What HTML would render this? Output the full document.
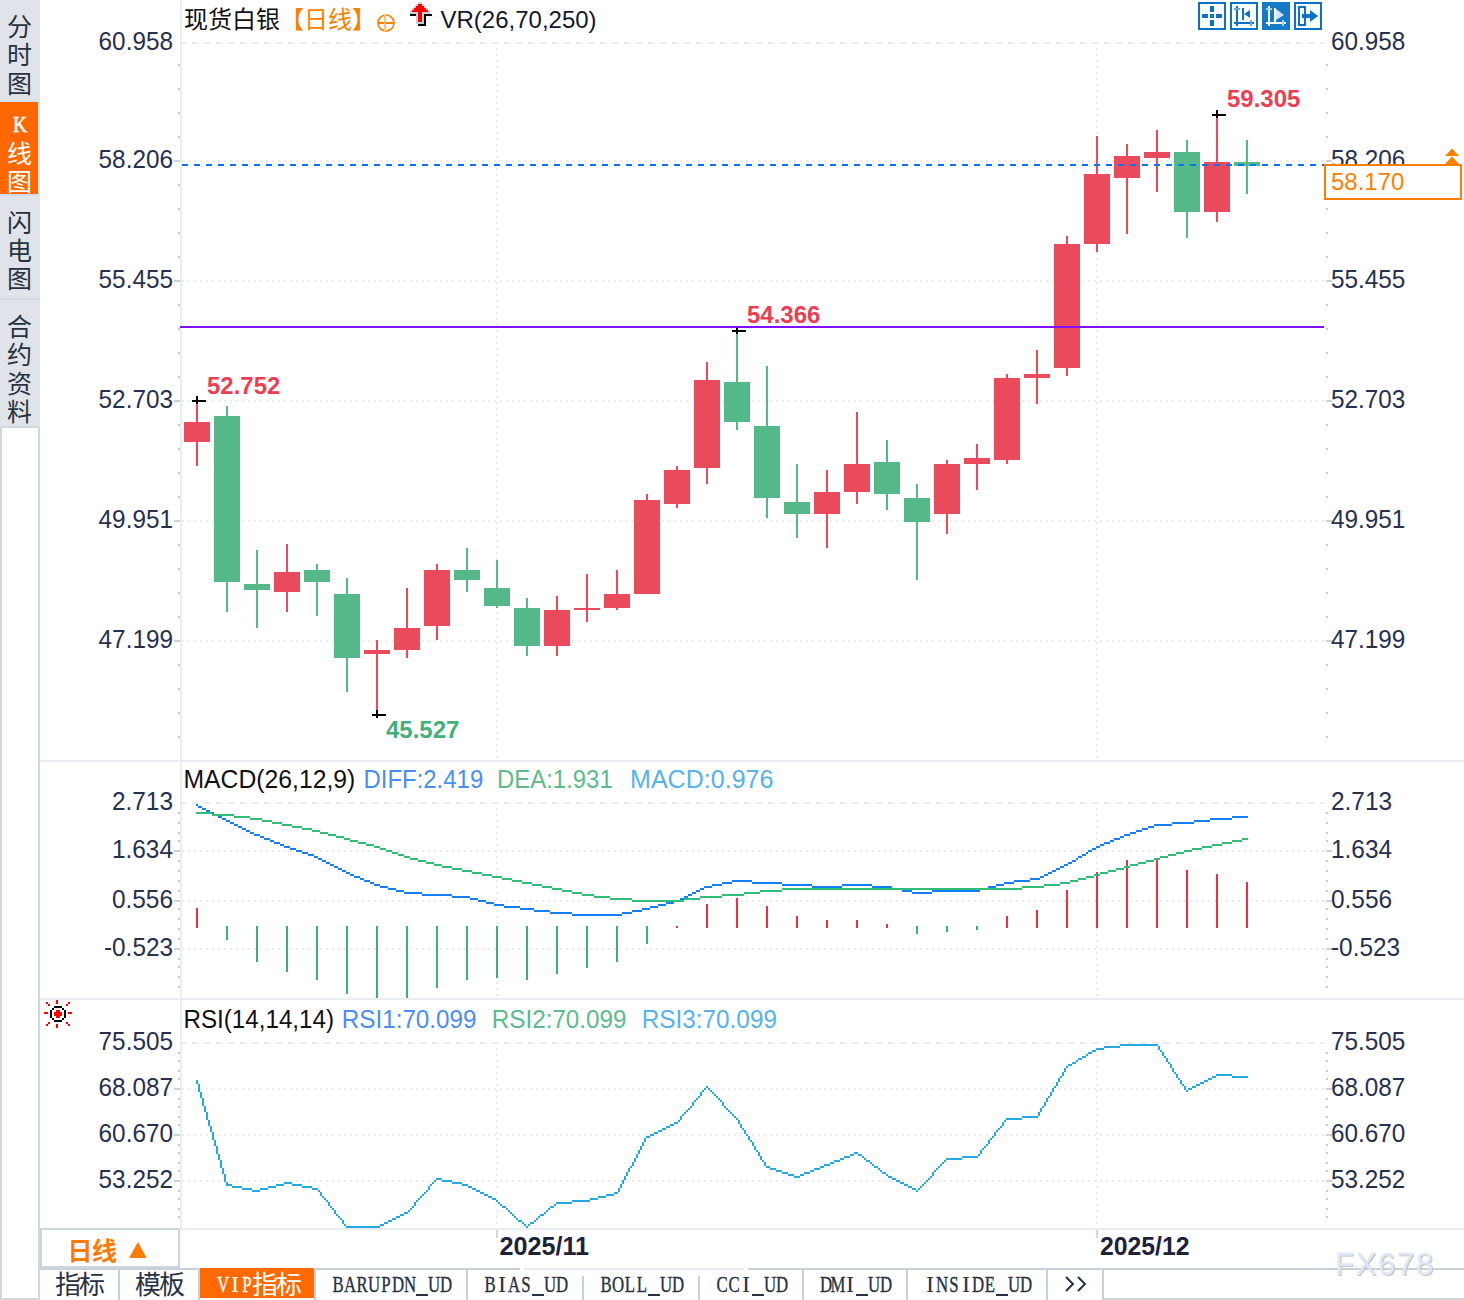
<!DOCTYPE html>
<html><head><meta charset="utf-8"><title>chart</title>
<style>html,body{margin:0;padding:0;background:#fff;}body{width:1464px;height:1300px;overflow:hidden;font-family:"Liberation Sans",sans-serif;}svg{display:block}</style>
</head><body>
<svg width="1464" height="1300" viewBox="0 0 1464 1300"><rect x="0" y="0" width="1464" height="1300" fill="#fff"/>
<rect x="0" y="0" width="40" height="426" fill="#e1e3ea"/>
<rect x="0" y="102" width="38" height="92" fill="#ff6800"/>
<rect x="38" y="102" width="2" height="92" fill="#dfe6ee"/>
<rect x="0" y="194" width="38" height="2" fill="#d2dbe3"/>
<rect x="0" y="298" width="40" height="2" fill="#d2dbe3"/>
<rect x="0" y="100" width="38" height="2" fill="#d8e2ec"/>
<rect x="0" y="426" width="40" height="874" fill="#cfd8e0"/>
<rect x="2" y="428" width="36" height="870" fill="#fff"/>
<rect x="0" y="426" width="40" height="2" fill="#cfd9e1"/>
<text x="7" y="36.07" font-size="25" fill="#26323f" font-family="'Liberation Sans', 'Noto Sans CJK SC', sans-serif">分</text>
<text x="7" y="64.32" font-size="25" fill="#26323f" font-family="'Liberation Sans', 'Noto Sans CJK SC', sans-serif">时</text>
<text x="7" y="92.57" font-size="25" fill="#26323f" font-family="'Liberation Sans', 'Noto Sans CJK SC', sans-serif">图</text>
<text x="7" y="162.57" font-size="25" fill="#fff" font-family="'Liberation Sans', 'Noto Sans CJK SC', sans-serif">线</text>
<text x="7" y="190.57" font-size="25" fill="#fff" font-family="'Liberation Sans', 'Noto Sans CJK SC', sans-serif">图</text>
<text x="7" y="232.07" font-size="25" fill="#26323f" font-family="'Liberation Sans', 'Noto Sans CJK SC', sans-serif">闪</text>
<text x="7" y="260.07" font-size="25" fill="#26323f" font-family="'Liberation Sans', 'Noto Sans CJK SC', sans-serif">电</text>
<text x="7" y="288.07" font-size="25" fill="#26323f" font-family="'Liberation Sans', 'Noto Sans CJK SC', sans-serif">图</text>
<text x="7" y="335.82" font-size="25" fill="#26323f" font-family="'Liberation Sans', 'Noto Sans CJK SC', sans-serif">合</text>
<text x="7" y="364.22" font-size="25" fill="#26323f" font-family="'Liberation Sans', 'Noto Sans CJK SC', sans-serif">约</text>
<text x="7" y="392.62" font-size="25" fill="#26323f" font-family="'Liberation Sans', 'Noto Sans CJK SC', sans-serif">资</text>
<text x="7" y="421.02" font-size="25" fill="#26323f" font-family="'Liberation Sans', 'Noto Sans CJK SC', sans-serif">料</text>
<text transform="translate(20 131.5) scale(0.8 1)" font-size="24" fill="#fff" stroke="#fff" stroke-width="0.7" text-anchor="middle" font-family="'Liberation Serif', serif">K</text>
<rect x="180" y="0" width="2" height="1230" fill="#eaeef3"/>
<rect x="40" y="760" width="1424" height="2" fill="#eaeef3"/>
<rect x="40" y="998" width="1424" height="2" fill="#eaeef3"/>
<rect x="40" y="1228" width="1424" height="2" fill="#eaeef3"/>
<line x1="180" y1="43" x2="1324" y2="43" stroke="#e9edf2" stroke-width="2" stroke-dasharray="6 6" shape-rendering="crispEdges"/>
<line x1="182" y1="161" x2="1324" y2="161" stroke="#e9edf2" stroke-width="2" stroke-dasharray="2 4" shape-rendering="crispEdges"/>
<line x1="182" y1="281" x2="1324" y2="281" stroke="#e9edf2" stroke-width="2" stroke-dasharray="2 4" shape-rendering="crispEdges"/>
<line x1="182" y1="401" x2="1324" y2="401" stroke="#e9edf2" stroke-width="2" stroke-dasharray="2 4" shape-rendering="crispEdges"/>
<line x1="182" y1="521" x2="1324" y2="521" stroke="#e9edf2" stroke-width="2" stroke-dasharray="2 4" shape-rendering="crispEdges"/>
<line x1="182" y1="641" x2="1324" y2="641" stroke="#e9edf2" stroke-width="2" stroke-dasharray="2 4" shape-rendering="crispEdges"/>
<line x1="180" y1="803" x2="1324" y2="803" stroke="#e9edf2" stroke-width="2" stroke-dasharray="6 6" shape-rendering="crispEdges"/>
<line x1="182" y1="851" x2="1324" y2="851" stroke="#e9edf2" stroke-width="2" stroke-dasharray="2 4" shape-rendering="crispEdges"/>
<line x1="182" y1="901" x2="1324" y2="901" stroke="#e9edf2" stroke-width="2" stroke-dasharray="2 4" shape-rendering="crispEdges"/>
<line x1="182" y1="949" x2="1324" y2="949" stroke="#e9edf2" stroke-width="2" stroke-dasharray="2 4" shape-rendering="crispEdges"/>
<line x1="180" y1="1043" x2="1324" y2="1043" stroke="#e9edf2" stroke-width="2" stroke-dasharray="6 6" shape-rendering="crispEdges"/>
<line x1="182" y1="1089" x2="1324" y2="1089" stroke="#e9edf2" stroke-width="2" stroke-dasharray="2 4" shape-rendering="crispEdges"/>
<line x1="182" y1="1135" x2="1324" y2="1135" stroke="#e9edf2" stroke-width="2" stroke-dasharray="2 4" shape-rendering="crispEdges"/>
<line x1="182" y1="1181" x2="1324" y2="1181" stroke="#e9edf2" stroke-width="2" stroke-dasharray="2 4" shape-rendering="crispEdges"/>
<line x1="497" y1="48" x2="497" y2="760" stroke="#e9edf2" stroke-width="2" stroke-dasharray="2 4" shape-rendering="crispEdges"/>
<line x1="497" y1="808" x2="497" y2="998" stroke="#e9edf2" stroke-width="2" stroke-dasharray="2 4" shape-rendering="crispEdges"/>
<line x1="497" y1="1048" x2="497" y2="1228" stroke="#e9edf2" stroke-width="2" stroke-dasharray="2 4" shape-rendering="crispEdges"/>
<rect x="496" y="1230" width="2" height="8" fill="#d3d9e0"/>
<line x1="1097" y1="48" x2="1097" y2="760" stroke="#e9edf2" stroke-width="2" stroke-dasharray="2 4" shape-rendering="crispEdges"/>
<line x1="1097" y1="808" x2="1097" y2="998" stroke="#e9edf2" stroke-width="2" stroke-dasharray="2 4" shape-rendering="crispEdges"/>
<line x1="1097" y1="1048" x2="1097" y2="1228" stroke="#e9edf2" stroke-width="2" stroke-dasharray="2 4" shape-rendering="crispEdges"/>
<rect x="1096" y="1230" width="2" height="8" fill="#d3d9e0"/>
<rect x="178" y="64" width="2" height="2" fill="#c3cad3"/>
<rect x="1326" y="64" width="2" height="2" fill="#c3cad3"/>
<rect x="178" y="88" width="2" height="2" fill="#c3cad3"/>
<rect x="1326" y="88" width="2" height="2" fill="#c3cad3"/>
<rect x="178" y="112" width="2" height="2" fill="#c3cad3"/>
<rect x="1326" y="112" width="2" height="2" fill="#c3cad3"/>
<rect x="178" y="136" width="2" height="2" fill="#c3cad3"/>
<rect x="1326" y="136" width="2" height="2" fill="#c3cad3"/>
<rect x="174" y="160" width="6" height="2" fill="#cdd2d8"/>
<rect x="1326" y="160" width="6" height="2" fill="#cdd2d8"/>
<rect x="178" y="184" width="2" height="2" fill="#c3cad3"/>
<rect x="1326" y="184" width="2" height="2" fill="#c3cad3"/>
<rect x="178" y="208" width="2" height="2" fill="#c3cad3"/>
<rect x="1326" y="208" width="2" height="2" fill="#c3cad3"/>
<rect x="178" y="232" width="2" height="2" fill="#c3cad3"/>
<rect x="1326" y="232" width="2" height="2" fill="#c3cad3"/>
<rect x="178" y="256" width="2" height="2" fill="#c3cad3"/>
<rect x="1326" y="256" width="2" height="2" fill="#c3cad3"/>
<rect x="174" y="280" width="6" height="2" fill="#cdd2d8"/>
<rect x="1326" y="280" width="6" height="2" fill="#cdd2d8"/>
<rect x="178" y="304" width="2" height="2" fill="#c3cad3"/>
<rect x="1326" y="304" width="2" height="2" fill="#c3cad3"/>
<rect x="178" y="328" width="2" height="2" fill="#c3cad3"/>
<rect x="1326" y="328" width="2" height="2" fill="#c3cad3"/>
<rect x="178" y="352" width="2" height="2" fill="#c3cad3"/>
<rect x="1326" y="352" width="2" height="2" fill="#c3cad3"/>
<rect x="178" y="376" width="2" height="2" fill="#c3cad3"/>
<rect x="1326" y="376" width="2" height="2" fill="#c3cad3"/>
<rect x="174" y="400" width="6" height="2" fill="#cdd2d8"/>
<rect x="1326" y="400" width="6" height="2" fill="#cdd2d8"/>
<rect x="178" y="424" width="2" height="2" fill="#c3cad3"/>
<rect x="1326" y="424" width="2" height="2" fill="#c3cad3"/>
<rect x="178" y="448" width="2" height="2" fill="#c3cad3"/>
<rect x="1326" y="448" width="2" height="2" fill="#c3cad3"/>
<rect x="178" y="472" width="2" height="2" fill="#c3cad3"/>
<rect x="1326" y="472" width="2" height="2" fill="#c3cad3"/>
<rect x="178" y="496" width="2" height="2" fill="#c3cad3"/>
<rect x="1326" y="496" width="2" height="2" fill="#c3cad3"/>
<rect x="174" y="520" width="6" height="2" fill="#cdd2d8"/>
<rect x="1326" y="520" width="6" height="2" fill="#cdd2d8"/>
<rect x="178" y="544" width="2" height="2" fill="#c3cad3"/>
<rect x="1326" y="544" width="2" height="2" fill="#c3cad3"/>
<rect x="178" y="568" width="2" height="2" fill="#c3cad3"/>
<rect x="1326" y="568" width="2" height="2" fill="#c3cad3"/>
<rect x="178" y="592" width="2" height="2" fill="#c3cad3"/>
<rect x="1326" y="592" width="2" height="2" fill="#c3cad3"/>
<rect x="178" y="616" width="2" height="2" fill="#c3cad3"/>
<rect x="1326" y="616" width="2" height="2" fill="#c3cad3"/>
<rect x="174" y="640" width="6" height="2" fill="#cdd2d8"/>
<rect x="1326" y="640" width="6" height="2" fill="#cdd2d8"/>
<rect x="178" y="664" width="2" height="2" fill="#c3cad3"/>
<rect x="1326" y="664" width="2" height="2" fill="#c3cad3"/>
<rect x="178" y="688" width="2" height="2" fill="#c3cad3"/>
<rect x="1326" y="688" width="2" height="2" fill="#c3cad3"/>
<rect x="178" y="712" width="2" height="2" fill="#c3cad3"/>
<rect x="1326" y="712" width="2" height="2" fill="#c3cad3"/>
<rect x="178" y="736" width="2" height="2" fill="#c3cad3"/>
<rect x="1326" y="736" width="2" height="2" fill="#c3cad3"/>
<rect x="178" y="812" width="2" height="2" fill="#c3cad3"/>
<rect x="1326" y="812" width="2" height="2" fill="#c3cad3"/>
<rect x="178" y="822" width="2" height="2" fill="#c3cad3"/>
<rect x="1326" y="822" width="2" height="2" fill="#c3cad3"/>
<rect x="178" y="832" width="2" height="2" fill="#c3cad3"/>
<rect x="1326" y="832" width="2" height="2" fill="#c3cad3"/>
<rect x="178" y="840" width="2" height="2" fill="#c3cad3"/>
<rect x="1326" y="840" width="2" height="2" fill="#c3cad3"/>
<rect x="174" y="850" width="6" height="2" fill="#cdd2d8"/>
<rect x="1326" y="850" width="6" height="2" fill="#cdd2d8"/>
<rect x="178" y="860" width="2" height="2" fill="#c3cad3"/>
<rect x="1326" y="860" width="2" height="2" fill="#c3cad3"/>
<rect x="178" y="870" width="2" height="2" fill="#c3cad3"/>
<rect x="1326" y="870" width="2" height="2" fill="#c3cad3"/>
<rect x="178" y="880" width="2" height="2" fill="#c3cad3"/>
<rect x="1326" y="880" width="2" height="2" fill="#c3cad3"/>
<rect x="178" y="890" width="2" height="2" fill="#c3cad3"/>
<rect x="1326" y="890" width="2" height="2" fill="#c3cad3"/>
<rect x="174" y="900" width="6" height="2" fill="#cdd2d8"/>
<rect x="1326" y="900" width="6" height="2" fill="#cdd2d8"/>
<rect x="178" y="908" width="2" height="2" fill="#c3cad3"/>
<rect x="1326" y="908" width="2" height="2" fill="#c3cad3"/>
<rect x="178" y="918" width="2" height="2" fill="#c3cad3"/>
<rect x="1326" y="918" width="2" height="2" fill="#c3cad3"/>
<rect x="178" y="928" width="2" height="2" fill="#c3cad3"/>
<rect x="1326" y="928" width="2" height="2" fill="#c3cad3"/>
<rect x="178" y="938" width="2" height="2" fill="#c3cad3"/>
<rect x="1326" y="938" width="2" height="2" fill="#c3cad3"/>
<rect x="174" y="948" width="6" height="2" fill="#cdd2d8"/>
<rect x="1326" y="948" width="6" height="2" fill="#cdd2d8"/>
<rect x="178" y="958" width="2" height="2" fill="#c3cad3"/>
<rect x="1326" y="958" width="2" height="2" fill="#c3cad3"/>
<rect x="178" y="966" width="2" height="2" fill="#c3cad3"/>
<rect x="1326" y="966" width="2" height="2" fill="#c3cad3"/>
<rect x="178" y="976" width="2" height="2" fill="#c3cad3"/>
<rect x="1326" y="976" width="2" height="2" fill="#c3cad3"/>
<rect x="178" y="986" width="2" height="2" fill="#c3cad3"/>
<rect x="1326" y="986" width="2" height="2" fill="#c3cad3"/>
<rect x="178" y="1052" width="2" height="2" fill="#c3cad3"/>
<rect x="1326" y="1052" width="2" height="2" fill="#c3cad3"/>
<rect x="178" y="1060" width="2" height="2" fill="#c3cad3"/>
<rect x="1326" y="1060" width="2" height="2" fill="#c3cad3"/>
<rect x="178" y="1070" width="2" height="2" fill="#c3cad3"/>
<rect x="1326" y="1070" width="2" height="2" fill="#c3cad3"/>
<rect x="178" y="1078" width="2" height="2" fill="#c3cad3"/>
<rect x="1326" y="1078" width="2" height="2" fill="#c3cad3"/>
<rect x="174" y="1088" width="6" height="2" fill="#cdd2d8"/>
<rect x="1326" y="1088" width="6" height="2" fill="#cdd2d8"/>
<rect x="178" y="1098" width="2" height="2" fill="#c3cad3"/>
<rect x="1326" y="1098" width="2" height="2" fill="#c3cad3"/>
<rect x="178" y="1106" width="2" height="2" fill="#c3cad3"/>
<rect x="1326" y="1106" width="2" height="2" fill="#c3cad3"/>
<rect x="178" y="1116" width="2" height="2" fill="#c3cad3"/>
<rect x="1326" y="1116" width="2" height="2" fill="#c3cad3"/>
<rect x="178" y="1124" width="2" height="2" fill="#c3cad3"/>
<rect x="1326" y="1124" width="2" height="2" fill="#c3cad3"/>
<rect x="174" y="1134" width="6" height="2" fill="#cdd2d8"/>
<rect x="1326" y="1134" width="6" height="2" fill="#cdd2d8"/>
<rect x="178" y="1144" width="2" height="2" fill="#c3cad3"/>
<rect x="1326" y="1144" width="2" height="2" fill="#c3cad3"/>
<rect x="178" y="1152" width="2" height="2" fill="#c3cad3"/>
<rect x="1326" y="1152" width="2" height="2" fill="#c3cad3"/>
<rect x="178" y="1162" width="2" height="2" fill="#c3cad3"/>
<rect x="1326" y="1162" width="2" height="2" fill="#c3cad3"/>
<rect x="178" y="1170" width="2" height="2" fill="#c3cad3"/>
<rect x="1326" y="1170" width="2" height="2" fill="#c3cad3"/>
<rect x="174" y="1180" width="6" height="2" fill="#cdd2d8"/>
<rect x="1326" y="1180" width="6" height="2" fill="#cdd2d8"/>
<rect x="178" y="1190" width="2" height="2" fill="#c3cad3"/>
<rect x="1326" y="1190" width="2" height="2" fill="#c3cad3"/>
<rect x="178" y="1198" width="2" height="2" fill="#c3cad3"/>
<rect x="1326" y="1198" width="2" height="2" fill="#c3cad3"/>
<rect x="178" y="1208" width="2" height="2" fill="#c3cad3"/>
<rect x="1326" y="1208" width="2" height="2" fill="#c3cad3"/>
<rect x="178" y="1216" width="2" height="2" fill="#c3cad3"/>
<rect x="1326" y="1216" width="2" height="2" fill="#c3cad3"/>
<text x="98.58" y="50.0" font-size="25" fill="#27304c" textLength="74.4" lengthAdjust="spacingAndGlyphs" font-family="'Liberation Sans', sans-serif">60.958</text>
<text x="1331.00" y="50.0" font-size="25" fill="#27304c" textLength="74.4" lengthAdjust="spacingAndGlyphs" font-family="'Liberation Sans', sans-serif">60.958</text>
<text x="98.58" y="167.5" font-size="25" fill="#27304c" textLength="74.4" lengthAdjust="spacingAndGlyphs" font-family="'Liberation Sans', sans-serif">58.206</text>
<text x="1331.00" y="167.5" font-size="25" fill="#27304c" textLength="74.4" lengthAdjust="spacingAndGlyphs" font-family="'Liberation Sans', sans-serif">58.206</text>
<text x="98.58" y="288.0" font-size="25" fill="#27304c" textLength="74.4" lengthAdjust="spacingAndGlyphs" font-family="'Liberation Sans', sans-serif">55.455</text>
<text x="1331.00" y="288.0" font-size="25" fill="#27304c" textLength="74.4" lengthAdjust="spacingAndGlyphs" font-family="'Liberation Sans', sans-serif">55.455</text>
<text x="98.58" y="408.0" font-size="25" fill="#27304c" textLength="74.4" lengthAdjust="spacingAndGlyphs" font-family="'Liberation Sans', sans-serif">52.703</text>
<text x="1331.00" y="408.0" font-size="25" fill="#27304c" textLength="74.4" lengthAdjust="spacingAndGlyphs" font-family="'Liberation Sans', sans-serif">52.703</text>
<text x="98.58" y="528.0" font-size="25" fill="#27304c" textLength="74.4" lengthAdjust="spacingAndGlyphs" font-family="'Liberation Sans', sans-serif">49.951</text>
<text x="1331.00" y="528.0" font-size="25" fill="#27304c" textLength="74.4" lengthAdjust="spacingAndGlyphs" font-family="'Liberation Sans', sans-serif">49.951</text>
<text x="98.58" y="648.0" font-size="25" fill="#27304c" textLength="74.4" lengthAdjust="spacingAndGlyphs" font-family="'Liberation Sans', sans-serif">47.199</text>
<text x="1331.00" y="648.0" font-size="25" fill="#27304c" textLength="74.4" lengthAdjust="spacingAndGlyphs" font-family="'Liberation Sans', sans-serif">47.199</text>
<text x="111.93" y="809.5" font-size="25" fill="#27304c" textLength="61.1" lengthAdjust="spacingAndGlyphs" font-family="'Liberation Sans', sans-serif">2.713</text>
<text x="1331.00" y="809.5" font-size="25" fill="#27304c" textLength="61.1" lengthAdjust="spacingAndGlyphs" font-family="'Liberation Sans', sans-serif">2.713</text>
<text x="111.93" y="857.5" font-size="25" fill="#27304c" textLength="61.1" lengthAdjust="spacingAndGlyphs" font-family="'Liberation Sans', sans-serif">1.634</text>
<text x="1331.00" y="857.5" font-size="25" fill="#27304c" textLength="61.1" lengthAdjust="spacingAndGlyphs" font-family="'Liberation Sans', sans-serif">1.634</text>
<text x="111.93" y="907.5" font-size="25" fill="#27304c" textLength="61.1" lengthAdjust="spacingAndGlyphs" font-family="'Liberation Sans', sans-serif">0.556</text>
<text x="1331.00" y="907.5" font-size="25" fill="#27304c" textLength="61.1" lengthAdjust="spacingAndGlyphs" font-family="'Liberation Sans', sans-serif">0.556</text>
<text x="103.94" y="955.5" font-size="25" fill="#27304c" textLength="69.1" lengthAdjust="spacingAndGlyphs" font-family="'Liberation Sans', sans-serif">-0.523</text>
<text x="1331.00" y="955.5" font-size="25" fill="#27304c" textLength="69.1" lengthAdjust="spacingAndGlyphs" font-family="'Liberation Sans', sans-serif">-0.523</text>
<text x="98.58" y="1050" font-size="25" fill="#27304c" textLength="74.4" lengthAdjust="spacingAndGlyphs" font-family="'Liberation Sans', sans-serif">75.505</text>
<text x="1331.00" y="1050" font-size="25" fill="#27304c" textLength="74.4" lengthAdjust="spacingAndGlyphs" font-family="'Liberation Sans', sans-serif">75.505</text>
<text x="98.58" y="1096" font-size="25" fill="#27304c" textLength="74.4" lengthAdjust="spacingAndGlyphs" font-family="'Liberation Sans', sans-serif">68.087</text>
<text x="1331.00" y="1096" font-size="25" fill="#27304c" textLength="74.4" lengthAdjust="spacingAndGlyphs" font-family="'Liberation Sans', sans-serif">68.087</text>
<text x="98.58" y="1142" font-size="25" fill="#27304c" textLength="74.4" lengthAdjust="spacingAndGlyphs" font-family="'Liberation Sans', sans-serif">60.670</text>
<text x="1331.00" y="1142" font-size="25" fill="#27304c" textLength="74.4" lengthAdjust="spacingAndGlyphs" font-family="'Liberation Sans', sans-serif">60.670</text>
<text x="98.58" y="1188" font-size="25" fill="#27304c" textLength="74.4" lengthAdjust="spacingAndGlyphs" font-family="'Liberation Sans', sans-serif">53.252</text>
<text x="1331.00" y="1188" font-size="25" fill="#27304c" textLength="74.4" lengthAdjust="spacingAndGlyphs" font-family="'Liberation Sans', sans-serif">53.252</text>
<rect x="196" y="400" width="2" height="66" fill="#e94b5c"/>
<rect x="184" y="422" width="26" height="20" fill="#e94b5c"/>
<rect x="226" y="406" width="2" height="206" fill="#54b888"/>
<rect x="214" y="416" width="26" height="166" fill="#54b888"/>
<rect x="256" y="550" width="2" height="78" fill="#54b888"/>
<rect x="244" y="584" width="26" height="6" fill="#54b888"/>
<rect x="286" y="544" width="2" height="68" fill="#e94b5c"/>
<rect x="274" y="572" width="26" height="20" fill="#e94b5c"/>
<rect x="316" y="564" width="2" height="52" fill="#54b888"/>
<rect x="304" y="570" width="26" height="12" fill="#54b888"/>
<rect x="346" y="578" width="2" height="114" fill="#54b888"/>
<rect x="334" y="594" width="26" height="64" fill="#54b888"/>
<rect x="376" y="640" width="2" height="72" fill="#e94b5c"/>
<rect x="364" y="650" width="26" height="4" fill="#e94b5c"/>
<rect x="406" y="588" width="2" height="70" fill="#e94b5c"/>
<rect x="394" y="628" width="26" height="22" fill="#e94b5c"/>
<rect x="436" y="564" width="2" height="76" fill="#e94b5c"/>
<rect x="424" y="570" width="26" height="56" fill="#e94b5c"/>
<rect x="466" y="548" width="2" height="44" fill="#54b888"/>
<rect x="454" y="570" width="26" height="10" fill="#54b888"/>
<rect x="496" y="560" width="2" height="48" fill="#54b888"/>
<rect x="484" y="588" width="26" height="18" fill="#54b888"/>
<rect x="526" y="598" width="2" height="58" fill="#54b888"/>
<rect x="514" y="608" width="26" height="38" fill="#54b888"/>
<rect x="556" y="596" width="2" height="60" fill="#e94b5c"/>
<rect x="544" y="610" width="26" height="36" fill="#e94b5c"/>
<rect x="586" y="574" width="2" height="48" fill="#e94b5c"/>
<rect x="574" y="608" width="26" height="2" fill="#e94b5c"/>
<rect x="616" y="570" width="2" height="40" fill="#e94b5c"/>
<rect x="604" y="594" width="26" height="14" fill="#e94b5c"/>
<rect x="646" y="494" width="2" height="100" fill="#e94b5c"/>
<rect x="634" y="500" width="26" height="94" fill="#e94b5c"/>
<rect x="676" y="466" width="2" height="42" fill="#e94b5c"/>
<rect x="664" y="470" width="26" height="34" fill="#e94b5c"/>
<rect x="706" y="362" width="2" height="122" fill="#e94b5c"/>
<rect x="694" y="380" width="26" height="88" fill="#e94b5c"/>
<rect x="736" y="334" width="2" height="96" fill="#54b888"/>
<rect x="724" y="382" width="26" height="40" fill="#54b888"/>
<rect x="766" y="366" width="2" height="152" fill="#54b888"/>
<rect x="754" y="426" width="26" height="72" fill="#54b888"/>
<rect x="796" y="464" width="2" height="74" fill="#54b888"/>
<rect x="784" y="502" width="26" height="12" fill="#54b888"/>
<rect x="826" y="470" width="2" height="78" fill="#e94b5c"/>
<rect x="814" y="492" width="26" height="22" fill="#e94b5c"/>
<rect x="856" y="412" width="2" height="92" fill="#e94b5c"/>
<rect x="844" y="464" width="26" height="28" fill="#e94b5c"/>
<rect x="886" y="440" width="2" height="70" fill="#54b888"/>
<rect x="874" y="462" width="26" height="32" fill="#54b888"/>
<rect x="916" y="484" width="2" height="96" fill="#54b888"/>
<rect x="904" y="498" width="26" height="24" fill="#54b888"/>
<rect x="946" y="460" width="2" height="74" fill="#e94b5c"/>
<rect x="934" y="464" width="26" height="50" fill="#e94b5c"/>
<rect x="976" y="444" width="2" height="46" fill="#e94b5c"/>
<rect x="964" y="458" width="26" height="6" fill="#e94b5c"/>
<rect x="1006" y="374" width="2" height="90" fill="#e94b5c"/>
<rect x="994" y="378" width="26" height="82" fill="#e94b5c"/>
<rect x="1036" y="350" width="2" height="54" fill="#e94b5c"/>
<rect x="1024" y="374" width="26" height="4" fill="#e94b5c"/>
<rect x="1066" y="236" width="2" height="140" fill="#e94b5c"/>
<rect x="1054" y="244" width="26" height="124" fill="#e94b5c"/>
<rect x="1096" y="136" width="2" height="116" fill="#e94b5c"/>
<rect x="1084" y="174" width="26" height="70" fill="#e94b5c"/>
<rect x="1126" y="144" width="2" height="90" fill="#e94b5c"/>
<rect x="1114" y="156" width="26" height="22" fill="#e94b5c"/>
<rect x="1156" y="130" width="2" height="62" fill="#e94b5c"/>
<rect x="1144" y="152" width="26" height="6" fill="#e94b5c"/>
<rect x="1186" y="140" width="2" height="98" fill="#54b888"/>
<rect x="1174" y="152" width="26" height="60" fill="#54b888"/>
<rect x="1216" y="116" width="2" height="106" fill="#e94b5c"/>
<rect x="1204" y="162" width="26" height="50" fill="#e94b5c"/>
<rect x="1246" y="140" width="2" height="54" fill="#54b888"/>
<rect x="1234" y="162" width="26" height="4" fill="#54b888"/>
<line x1="182" y1="165" x2="1324" y2="165" stroke="#0a74f2" stroke-width="2" stroke-dasharray="6 6" shape-rendering="crispEdges"/>
<rect x="192" y="400" width="14" height="2" fill="#000"/>
<rect x="196" y="396" width="2" height="8" fill="#000"/>
<rect x="372" y="714" width="14" height="2" fill="#000"/>
<rect x="376" y="710" width="2" height="8" fill="#000"/>
<rect x="732" y="330" width="14" height="2" fill="#000"/>
<rect x="736" y="326" width="2" height="8" fill="#000"/>
<rect x="1212" y="114" width="14" height="2" fill="#000"/>
<rect x="1216" y="110" width="2" height="8" fill="#000"/>
<rect x="180" y="326" width="1144" height="2" fill="#7f10f8"/>
<text x="207" y="394" font-size="24" fill="#eb4054" font-weight="bold" text-anchor="start" font-family="'Liberation Sans', sans-serif">52.752</text>
<text x="747" y="323" font-size="24" fill="#eb4054" font-weight="bold" text-anchor="start" font-family="'Liberation Sans', sans-serif">54.366</text>
<text x="1227" y="107" font-size="24" fill="#eb4054" font-weight="bold" text-anchor="start" font-family="'Liberation Sans', sans-serif">59.305</text>
<text x="386" y="738" font-size="24" fill="#42b07c" font-weight="bold" text-anchor="start" font-family="'Liberation Sans', sans-serif">45.527</text>
<rect x="1324" y="164" width="138" height="36" fill="#ff7f00"/>
<rect x="1326" y="166" width="134" height="32" fill="#fff"/>
<text x="1331" y="190" font-size="24" fill="#ff7f00" font-weight="normal" text-anchor="start" font-family="'Liberation Sans', sans-serif">58.170</text>
<path d="M1452 148.5 L1459 156 L1445 156 Z M1452 156.5 L1459 164 L1445 164 Z" fill="#ff7f00"/>
<rect x="196" y="908" width="2" height="20" fill="#e83246"/>
<rect x="226" y="926" width="2" height="14" fill="#3eaf78"/>
<rect x="256" y="926" width="2" height="36" fill="#3eaf78"/>
<rect x="286" y="926" width="2" height="46" fill="#3eaf78"/>
<rect x="316" y="926" width="2" height="54" fill="#3eaf78"/>
<rect x="346" y="926" width="2" height="68" fill="#3eaf78"/>
<rect x="376" y="926" width="2" height="72" fill="#3eaf78"/>
<rect x="406" y="926" width="2" height="72" fill="#3eaf78"/>
<rect x="436" y="926" width="2" height="62" fill="#3eaf78"/>
<rect x="466" y="926" width="2" height="54" fill="#3eaf78"/>
<rect x="496" y="926" width="2" height="52" fill="#3eaf78"/>
<rect x="526" y="926" width="2" height="54" fill="#3eaf78"/>
<rect x="556" y="926" width="2" height="48" fill="#3eaf78"/>
<rect x="586" y="926" width="2" height="42" fill="#3eaf78"/>
<rect x="616" y="926" width="2" height="36" fill="#3eaf78"/>
<rect x="646" y="926" width="2" height="18" fill="#3eaf78"/>
<rect x="676" y="926" width="2" height="2" fill="#e83246"/>
<rect x="706" y="904" width="2" height="24" fill="#e83246"/>
<rect x="736" y="898" width="2" height="30" fill="#e83246"/>
<rect x="766" y="906" width="2" height="22" fill="#e83246"/>
<rect x="796" y="916" width="2" height="12" fill="#e83246"/>
<rect x="826" y="920" width="2" height="8" fill="#e83246"/>
<rect x="856" y="920" width="2" height="8" fill="#e83246"/>
<rect x="886" y="924" width="2" height="4" fill="#e83246"/>
<rect x="916" y="926" width="2" height="8" fill="#3eaf78"/>
<rect x="946" y="926" width="2" height="6" fill="#3eaf78"/>
<rect x="976" y="926" width="2" height="4" fill="#3eaf78"/>
<rect x="1006" y="916" width="2" height="12" fill="#e83246"/>
<rect x="1036" y="910" width="2" height="18" fill="#e83246"/>
<rect x="1066" y="890" width="2" height="38" fill="#e83246"/>
<rect x="1096" y="872" width="2" height="56" fill="#e83246"/>
<rect x="1126" y="860" width="2" height="68" fill="#e83246"/>
<rect x="1156" y="858" width="2" height="70" fill="#e83246"/>
<rect x="1186" y="870" width="2" height="58" fill="#e83246"/>
<rect x="1216" y="874" width="2" height="54" fill="#e83246"/>
<rect x="1246" y="882" width="2" height="46" fill="#e83246"/>
<path d="M196 804h2v2h-2zM198 806h4v2h-4zM202 808h4v2h-4zM206 810h4v2h-4zM210 812h4v2h-4zM214 814h4v2h-4zM218 816h4v2h-4zM1232 816h16v2h-16zM222 818h4v2h-4zM1210 818h22v2h-22zM226 820h4v2h-4zM1194 820h16v2h-16zM230 822h4v2h-4zM1172 822h22v2h-22zM234 824h4v2h-4zM1154 824h18v2h-18zM238 826h4v2h-4zM1148 826h6v2h-6zM242 828h4v2h-4zM1142 828h6v2h-6zM246 830h4v2h-4zM1136 830h6v2h-6zM250 832h4v2h-4zM1130 832h6v2h-6zM254 834h6v2h-6zM1124 834h6v2h-6zM260 836h4v2h-4zM1120 836h4v2h-4zM264 838h6v2h-6zM1114 838h6v2h-6zM270 840h4v2h-4zM1110 840h4v2h-4zM274 842h6v2h-6zM1104 842h6v2h-6zM280 844h4v2h-4zM1100 844h4v2h-4zM284 846h6v2h-6zM1096 846h4v2h-4zM290 848h6v2h-6zM1092 848h4v2h-4zM296 850h6v2h-6zM1088 850h4v2h-4zM302 852h6v2h-6zM1086 852h2v2h-2zM308 854h6v2h-6zM1082 854h4v2h-4zM314 856h4v2h-4zM1078 856h4v2h-4zM318 858h4v2h-4zM1076 858h2v2h-2zM322 860h4v2h-4zM1072 860h4v2h-4zM326 862h4v2h-4zM1068 862h4v2h-4zM330 864h4v2h-4zM1064 864h4v2h-4zM334 866h4v2h-4zM1060 866h4v2h-4zM338 868h4v2h-4zM1056 868h4v2h-4zM342 870h4v2h-4zM1052 870h4v2h-4zM346 872h4v2h-4zM1048 872h4v2h-4zM350 874h4v2h-4zM1044 874h4v2h-4zM354 876h6v2h-6zM1040 876h4v2h-4zM360 878h4v2h-4zM1030 878h10v2h-10zM364 880h6v2h-6zM732 880h20v2h-20zM1014 880h16v2h-16zM370 882h4v2h-4zM722 882h10v2h-10zM752 882h30v2h-30zM1004 882h10v2h-10zM374 884h6v2h-6zM712 884h10v2h-10zM782 884h30v2h-30zM842 884h30v2h-30zM996 884h8v2h-8zM380 886h8v2h-8zM704 886h8v2h-8zM812 886h30v2h-30zM872 886h20v2h-20zM988 886h8v2h-8zM388 888h8v2h-8zM700 888h4v2h-4zM892 888h10v2h-10zM980 888h8v2h-8zM396 890h8v2h-8zM696 890h4v2h-4zM902 890h10v2h-10zM932 890h48v2h-48zM404 892h18v2h-18zM692 892h4v2h-4zM912 892h20v2h-20zM422 894h30v2h-30zM688 894h4v2h-4zM452 896h18v2h-18zM684 896h4v2h-4zM470 898h8v2h-8zM680 898h4v2h-4zM478 900h8v2h-8zM674 900h6v2h-6zM486 902h8v2h-8zM666 902h8v2h-8zM494 904h10v2h-10zM658 904h8v2h-8zM504 906h16v2h-16zM650 906h8v2h-8zM520 908h14v2h-14zM642 908h8v2h-8zM534 910h16v2h-16zM632 910h10v2h-10zM550 912h22v2h-22zM622 912h10v2h-10zM572 914h50v2h-50z" fill="#157efa" shape-rendering="crispEdges"/>
<path d="M196 812h16v2h-16zM212 814h22v2h-22zM234 816h16v2h-16zM250 818h12v2h-12zM262 820h10v2h-10zM272 822h10v2h-10zM282 824h10v2h-10zM292 826h10v2h-10zM302 828h10v2h-10zM312 830h8v2h-8zM320 832h8v2h-8zM328 834h8v2h-8zM336 836h8v2h-8zM344 838h6v2h-6zM1242 838h6v2h-6zM350 840h8v2h-8zM1232 840h10v2h-10zM358 842h8v2h-8zM1222 842h10v2h-10zM366 844h8v2h-8zM1212 844h10v2h-10zM374 846h6v2h-6zM1202 846h10v2h-10zM380 848h6v2h-6zM1192 848h10v2h-10zM386 850h6v2h-6zM1184 850h8v2h-8zM392 852h6v2h-6zM1176 852h8v2h-8zM398 854h6v2h-6zM1168 854h8v2h-8zM404 856h6v2h-6zM1160 856h8v2h-8zM410 858h8v2h-8zM1154 858h6v2h-6zM418 860h8v2h-8zM1146 860h8v2h-8zM426 862h8v2h-8zM1138 862h8v2h-8zM434 864h8v2h-8zM1130 864h8v2h-8zM442 866h10v2h-10zM1124 866h6v2h-6zM452 868h10v2h-10zM1116 868h8v2h-8zM462 870h10v2h-10zM1108 870h8v2h-8zM472 872h10v2h-10zM1100 872h8v2h-8zM482 874h10v2h-10zM1094 874h6v2h-6zM492 876h10v2h-10zM1086 876h8v2h-8zM502 878h10v2h-10zM1078 878h8v2h-8zM512 880h10v2h-10zM1070 880h8v2h-8zM522 882h10v2h-10zM1060 882h10v2h-10zM532 884h10v2h-10zM1044 884h16v2h-16zM542 886h10v2h-10zM1022 886h22v2h-22zM552 888h10v2h-10zM782 888h240v2h-240zM562 890h10v2h-10zM760 890h22v2h-22zM572 892h10v2h-10zM744 892h16v2h-16zM582 894h12v2h-12zM722 894h22v2h-22zM594 896h16v2h-16zM700 896h22v2h-22zM610 898h22v2h-22zM684 898h16v2h-16zM632 900h52v2h-52z" fill="#2fbd78" shape-rendering="crispEdges"/>
<path d="M1120 1044h38v2h-38zM1104 1046h16v2h-16zM1158 1046h2v2h-2zM1096 1048h8v2h-8zM1158 1048h2v2h-2zM1092 1050h4v2h-4zM1160 1050h2v2h-2zM1088 1052h4v2h-4zM1162 1052h2v2h-2zM1086 1054h2v2h-2zM1162 1054h2v2h-2zM1082 1056h4v2h-4zM1164 1056h2v2h-2zM1078 1058h4v2h-4zM1166 1058h2v2h-2zM1076 1060h2v2h-2zM1166 1060h2v2h-2zM1072 1062h4v2h-4zM1168 1062h2v2h-2zM1068 1064h4v2h-4zM1170 1064h2v2h-2zM1066 1066h2v2h-2zM1170 1066h2v2h-2zM1064 1068h2v2h-2zM1172 1068h2v2h-2zM1064 1070h2v2h-2zM1172 1070h2v2h-2zM1062 1072h2v2h-2zM1174 1072h2v2h-2zM1062 1074h2v2h-2zM1176 1074h2v2h-2zM1216 1074h16v2h-16zM1060 1076h2v2h-2zM1176 1076h2v2h-2zM1212 1076h4v2h-4zM1232 1076h16v2h-16zM1058 1078h2v2h-2zM1178 1078h2v2h-2zM1208 1078h4v2h-4zM196 1080h2v2h-2zM1058 1080h2v2h-2zM1180 1080h2v2h-2zM1204 1080h4v2h-4zM196 1082h2v2h-2zM1056 1082h2v2h-2zM1180 1082h2v2h-2zM1200 1082h4v2h-4zM198 1084h2v2h-2zM1056 1084h2v2h-2zM1182 1084h2v2h-2zM1196 1084h4v2h-4zM198 1086h2v2h-2zM706 1086h2v2h-2zM1054 1086h2v2h-2zM1184 1086h2v2h-2zM1192 1086h4v2h-4zM198 1088h2v2h-2zM704 1088h2v2h-2zM708 1088h2v2h-2zM1052 1088h2v2h-2zM1184 1088h2v2h-2zM1188 1088h4v2h-4zM198 1090h2v2h-2zM702 1090h2v2h-2zM710 1090h2v2h-2zM1052 1090h2v2h-2zM1186 1090h2v2h-2zM200 1092h2v2h-2zM700 1092h2v2h-2zM712 1092h2v2h-2zM1050 1092h2v2h-2zM200 1094h2v2h-2zM700 1094h2v2h-2zM714 1094h2v2h-2zM1050 1094h2v2h-2zM200 1096h2v2h-2zM698 1096h2v2h-2zM716 1096h2v2h-2zM1048 1096h2v2h-2zM202 1098h2v2h-2zM696 1098h2v2h-2zM718 1098h2v2h-2zM1046 1098h2v2h-2zM202 1100h2v2h-2zM694 1100h2v2h-2zM720 1100h2v2h-2zM1046 1100h2v2h-2zM202 1102h2v2h-2zM692 1102h2v2h-2zM722 1102h2v2h-2zM1044 1102h2v2h-2zM202 1104h2v2h-2zM692 1104h2v2h-2zM722 1104h2v2h-2zM1044 1104h2v2h-2zM204 1106h2v2h-2zM690 1106h2v2h-2zM724 1106h2v2h-2zM1042 1106h2v2h-2zM204 1108h2v2h-2zM688 1108h2v2h-2zM726 1108h2v2h-2zM1040 1108h2v2h-2zM204 1110h2v2h-2zM686 1110h2v2h-2zM728 1110h2v2h-2zM1040 1110h2v2h-2zM206 1112h2v2h-2zM684 1112h2v2h-2zM730 1112h2v2h-2zM1038 1112h2v2h-2zM206 1114h2v2h-2zM682 1114h2v2h-2zM732 1114h2v2h-2zM1038 1114h2v2h-2zM206 1116h2v2h-2zM680 1116h2v2h-2zM734 1116h2v2h-2zM1022 1116h16v2h-16zM206 1118h2v2h-2zM680 1118h2v2h-2zM736 1118h2v2h-2zM1006 1118h16v2h-16zM208 1120h2v2h-2zM678 1120h2v2h-2zM738 1120h2v2h-2zM1004 1120h2v2h-2zM208 1122h2v2h-2zM674 1122h4v2h-4zM738 1122h2v2h-2zM1002 1122h2v2h-2zM208 1124h2v2h-2zM670 1124h4v2h-4zM740 1124h2v2h-2zM1002 1124h2v2h-2zM210 1126h2v2h-2zM666 1126h4v2h-4zM740 1126h2v2h-2zM1000 1126h2v2h-2zM210 1128h2v2h-2zM662 1128h4v2h-4zM742 1128h2v2h-2zM998 1128h2v2h-2zM210 1130h2v2h-2zM658 1130h4v2h-4zM744 1130h2v2h-2zM996 1130h2v2h-2zM212 1132h2v2h-2zM654 1132h4v2h-4zM744 1132h2v2h-2zM994 1132h2v2h-2zM212 1134h2v2h-2zM650 1134h4v2h-4zM746 1134h2v2h-2zM994 1134h2v2h-2zM212 1136h2v2h-2zM646 1136h4v2h-4zM748 1136h2v2h-2zM992 1136h2v2h-2zM212 1138h2v2h-2zM644 1138h2v2h-2zM748 1138h2v2h-2zM990 1138h2v2h-2zM214 1140h2v2h-2zM644 1140h2v2h-2zM750 1140h2v2h-2zM988 1140h2v2h-2zM214 1142h2v2h-2zM642 1142h2v2h-2zM752 1142h2v2h-2zM988 1142h2v2h-2zM214 1144h2v2h-2zM642 1144h2v2h-2zM752 1144h2v2h-2zM986 1144h2v2h-2zM216 1146h2v2h-2zM640 1146h2v2h-2zM754 1146h2v2h-2zM984 1146h2v2h-2zM216 1148h2v2h-2zM640 1148h2v2h-2zM754 1148h2v2h-2zM982 1148h2v2h-2zM216 1150h2v2h-2zM638 1150h2v2h-2zM756 1150h2v2h-2zM980 1150h2v2h-2zM216 1152h2v2h-2zM638 1152h2v2h-2zM758 1152h2v2h-2zM854 1152h4v2h-4zM980 1152h2v2h-2zM218 1154h2v2h-2zM636 1154h2v2h-2zM758 1154h2v2h-2zM850 1154h4v2h-4zM858 1154h4v2h-4zM978 1154h2v2h-2zM218 1156h2v2h-2zM636 1156h2v2h-2zM760 1156h2v2h-2zM844 1156h6v2h-6zM862 1156h2v2h-2zM962 1156h16v2h-16zM218 1158h2v2h-2zM634 1158h2v2h-2zM760 1158h2v2h-2zM840 1158h4v2h-4zM864 1158h2v2h-2zM946 1158h16v2h-16zM220 1160h2v2h-2zM634 1160h2v2h-2zM762 1160h2v2h-2zM834 1160h6v2h-6zM866 1160h4v2h-4zM944 1160h2v2h-2zM220 1162h2v2h-2zM632 1162h2v2h-2zM764 1162h2v2h-2zM830 1162h4v2h-4zM870 1162h2v2h-2zM942 1162h2v2h-2zM220 1164h2v2h-2zM632 1164h2v2h-2zM764 1164h2v2h-2zM824 1164h6v2h-6zM872 1164h2v2h-2zM940 1164h2v2h-2zM220 1166h2v2h-2zM630 1166h2v2h-2zM766 1166h4v2h-4zM820 1166h4v2h-4zM874 1166h4v2h-4zM938 1166h2v2h-2zM222 1168h2v2h-2zM628 1168h2v2h-2zM770 1168h6v2h-6zM814 1168h6v2h-6zM878 1168h2v2h-2zM936 1168h2v2h-2zM222 1170h2v2h-2zM628 1170h2v2h-2zM776 1170h6v2h-6zM810 1170h4v2h-4zM880 1170h2v2h-2zM934 1170h2v2h-2zM222 1172h2v2h-2zM626 1172h2v2h-2zM782 1172h6v2h-6zM804 1172h6v2h-6zM882 1172h4v2h-4zM932 1172h2v2h-2zM224 1174h2v2h-2zM626 1174h2v2h-2zM788 1174h6v2h-6zM800 1174h4v2h-4zM886 1174h2v2h-2zM932 1174h2v2h-2zM224 1176h2v2h-2zM624 1176h2v2h-2zM794 1176h6v2h-6zM888 1176h4v2h-4zM930 1176h2v2h-2zM224 1178h2v2h-2zM436 1178h6v2h-6zM624 1178h2v2h-2zM892 1178h4v2h-4zM928 1178h2v2h-2zM224 1180h2v2h-2zM434 1180h2v2h-2zM442 1180h10v2h-10zM622 1180h2v2h-2zM896 1180h4v2h-4zM926 1180h2v2h-2zM226 1182h2v2h-2zM284 1182h8v2h-8zM432 1182h2v2h-2zM452 1182h10v2h-10zM622 1182h2v2h-2zM900 1182h4v2h-4zM924 1182h2v2h-2zM226 1184h6v2h-6zM276 1184h8v2h-8zM292 1184h10v2h-10zM430 1184h2v2h-2zM462 1184h6v2h-6zM620 1184h2v2h-2zM904 1184h4v2h-4zM922 1184h2v2h-2zM232 1186h10v2h-10zM268 1186h8v2h-8zM302 1186h10v2h-10zM428 1186h2v2h-2zM468 1186h4v2h-4zM620 1186h2v2h-2zM908 1186h4v2h-4zM920 1186h2v2h-2zM242 1188h10v2h-10zM260 1188h8v2h-8zM312 1188h6v2h-6zM428 1188h2v2h-2zM472 1188h4v2h-4zM618 1188h2v2h-2zM912 1188h4v2h-4zM918 1188h2v2h-2zM252 1190h8v2h-8zM318 1190h2v2h-2zM426 1190h2v2h-2zM476 1190h4v2h-4zM618 1190h2v2h-2zM916 1190h2v2h-2zM320 1192h2v2h-2zM424 1192h2v2h-2zM480 1192h4v2h-4zM614 1192h4v2h-4zM320 1194h2v2h-2zM422 1194h2v2h-2zM484 1194h4v2h-4zM606 1194h8v2h-8zM322 1196h2v2h-2zM420 1196h2v2h-2zM488 1196h4v2h-4zM598 1196h8v2h-8zM324 1198h2v2h-2zM418 1198h2v2h-2zM492 1198h4v2h-4zM590 1198h8v2h-8zM326 1200h2v2h-2zM416 1200h2v2h-2zM496 1200h2v2h-2zM572 1200h18v2h-18zM328 1202h2v2h-2zM414 1202h2v2h-2zM498 1202h2v2h-2zM556 1202h16v2h-16zM328 1204h2v2h-2zM414 1204h2v2h-2zM500 1204h2v2h-2zM554 1204h2v2h-2zM330 1206h2v2h-2zM412 1206h2v2h-2zM502 1206h4v2h-4zM550 1206h4v2h-4zM332 1208h2v2h-2zM410 1208h2v2h-2zM506 1208h2v2h-2zM548 1208h2v2h-2zM334 1210h2v2h-2zM408 1210h2v2h-2zM508 1210h2v2h-2zM546 1210h2v2h-2zM334 1212h2v2h-2zM404 1212h4v2h-4zM510 1212h2v2h-2zM544 1212h2v2h-2zM336 1214h2v2h-2zM400 1214h4v2h-4zM512 1214h2v2h-2zM540 1214h4v2h-4zM338 1216h2v2h-2zM396 1216h4v2h-4zM514 1216h2v2h-2zM538 1216h2v2h-2zM340 1218h2v2h-2zM392 1218h4v2h-4zM516 1218h2v2h-2zM536 1218h2v2h-2zM342 1220h2v2h-2zM388 1220h4v2h-4zM518 1220h4v2h-4zM534 1220h2v2h-2zM342 1222h2v2h-2zM384 1222h4v2h-4zM522 1222h2v2h-2zM530 1222h4v2h-4zM344 1224h2v2h-2zM380 1224h4v2h-4zM524 1224h2v2h-2zM528 1224h2v2h-2zM346 1226h34v2h-34zM526 1226h2v2h-2z" fill="#24a9e0" shape-rendering="crispEdges"/>
<text x="184 208 232 256" y="28.12" font-size="24" fill="#111" font-family="'Liberation Sans', 'Noto Sans CJK SC', sans-serif">现货白银</text>
<text x="280 304 328 352" y="28.12" font-size="24" fill="#ff7f00" font-family="'Liberation Sans', 'Noto Sans CJK SC', sans-serif">【日线】</text>
<circle cx="386" cy="23" r="8" fill="none" stroke="#ff7f00" stroke-width="1.6"/><rect x="378" y="22" width="16" height="2" fill="#ff7f00"/><rect x="384" y="15" width="2" height="16" fill="#ffc27a"/>
<g shape-rendering="crispEdges"><path d="M418 2h4v2h2v2h2v2h2v2h2v4h-6v10h-8v-10h-6v-4h2v-2h2v-2h2v-2h2z" fill="#c5d2d2"/><path d="M418 4h4v2h2v2h2v2h2v2h-6v10h-4v-10h-6v-2h2v-2h2v-2h2z" fill="#ff0000"/><rect x="410" y="14" width="6" height="2" fill="#000"/><rect x="424" y="14" width="8" height="2" fill="#000"/><rect x="424" y="16" width="2" height="10" fill="#000"/><rect x="418" y="24" width="8" height="2" fill="#000"/></g>
<text x="440.5" y="28" font-size="24" fill="#14182a" font-weight="normal" text-anchor="start" font-family="'Liberation Sans', sans-serif">VR(26,70,250)</text>
<text x="183.5" y="788" font-size="26" fill="#111" textLength="171.8" lengthAdjust="spacingAndGlyphs" font-family="'Liberation Sans', sans-serif">MACD(26,12,9)</text>
<text x="363.5" y="788" font-size="26" fill="#4a8ff0" textLength="119.7" lengthAdjust="spacingAndGlyphs" font-family="'Liberation Sans', sans-serif">DIFF:2.419</text>
<text x="497" y="788" font-size="26" fill="#5dbb8c" textLength="115.7" lengthAdjust="spacingAndGlyphs" font-family="'Liberation Sans', sans-serif">DEA:1.931</text>
<text x="630" y="788" font-size="26" fill="#56b2e8" textLength="143.5" lengthAdjust="spacingAndGlyphs" font-family="'Liberation Sans', sans-serif">MACD:0.976</text>
<text x="183.5" y="1028" font-size="26" fill="#111" textLength="150.5" lengthAdjust="spacingAndGlyphs" font-family="'Liberation Sans', sans-serif">RSI(14,14,14)</text>
<text x="341.75" y="1028" font-size="26" fill="#4a8ff0" textLength="134.8" lengthAdjust="spacingAndGlyphs" font-family="'Liberation Sans', sans-serif">RSI1:70.099</text>
<text x="491.75" y="1028" font-size="26" fill="#5dbb8c" textLength="134.8" lengthAdjust="spacingAndGlyphs" font-family="'Liberation Sans', sans-serif">RSI2:70.099</text>
<text x="641.75" y="1028" font-size="26" fill="#56b2e8" textLength="135.2" lengthAdjust="spacingAndGlyphs" font-family="'Liberation Sans', sans-serif">RSI3:70.099</text>
<rect x="1198" y="2" width="28" height="28" fill="#0d72c5"/>
<rect x="1200" y="4" width="24" height="24" fill="#fff"/>
<rect x="1230" y="2" width="28" height="28" fill="#0d72c5"/>
<rect x="1232" y="4" width="24" height="24" fill="#fff"/>
<rect x="1262" y="2" width="28" height="28" fill="#147ac8"/>
<rect x="1294" y="2" width="28" height="28" fill="#0d72c5"/>
<rect x="1296" y="4" width="24" height="24" fill="#fff"/>
<rect x="1210" y="6" width="4" height="6" fill="#0d72c5"/>
<rect x="1210" y="14" width="4" height="4" fill="#0d72c5"/>
<rect x="1210" y="20" width="4" height="6" fill="#0d72c5"/>
<rect x="1202" y="14" width="6" height="4" fill="#0d72c5"/>
<rect x="1216" y="14" width="6" height="4" fill="#0d72c5"/>
<rect x="1236" y="6" width="2" height="20" fill="#0d72c5"/>
<rect x="1234" y="8" width="6" height="2" fill="#6aa9dc"/>
<rect x="1234" y="22" width="20" height="2" fill="#0d72c5"/>
<rect x="1250" y="20" width="2" height="6" fill="#6aa9dc"/>
<rect x="1242" y="8" width="2" height="12" fill="#0d72c5"/>
<path d="M1244 14 L1250 10 L1250 18 Z" fill="#0d72c5"/>
<rect x="1268" y="6" width="2" height="20" fill="#fff"/>
<rect x="1266" y="8" width="6" height="2" fill="#a9cdea"/>
<rect x="1266" y="22" width="20" height="2" fill="#fff"/>
<rect x="1282" y="20" width="2" height="6" fill="#a9cdea"/>
<rect x="1274" y="8" width="2" height="14" fill="#fff"/>
<path d="M1276 9 L1284 15 L1276 20 Z" fill="#d5e6f5"/>
<rect x="1298" y="6" width="8" height="20" fill="#0d72c5"/>
<rect x="1300" y="8" width="4" height="16" fill="#fff"/>
<rect x="1302" y="14" width="10" height="4" fill="#0d72c5"/>
<path d="M1310 10 L1318 16 L1310 22 Z" fill="#0d72c5"/>
<g shape-rendering="crispEdges">
<rect x="56" y="1000" width="2" height="4" fill="#ff0000"/>
<rect x="56" y="1024" width="2" height="4" fill="#ff0000"/>
<rect x="44" y="1012" width="4" height="2" fill="#ff0000"/>
<rect x="68" y="1012" width="4" height="2" fill="#ff0000"/>
<rect x="46" y="1002" width="2" height="2" fill="#ff0000"/>
<rect x="48" y="1004" width="2" height="2" fill="#ff0000"/>
<rect x="68" y="1002" width="2" height="2" fill="#ff0000"/>
<rect x="66" y="1004" width="2" height="2" fill="#ff0000"/>
<rect x="48" y="1022" width="2" height="2" fill="#ff0000"/>
<rect x="46" y="1024" width="2" height="2" fill="#ff0000"/>
<rect x="66" y="1022" width="2" height="2" fill="#ff0000"/>
<rect x="68" y="1024" width="2" height="2" fill="#ff0000"/>
<rect x="54" y="1006" width="8" height="2" fill="#000"/>
<rect x="54" y="1020" width="8" height="2" fill="#000"/>
<rect x="50" y="1010" width="2" height="8" fill="#000"/>
<rect x="64" y="1010" width="2" height="8" fill="#000"/>
<rect x="52" y="1008" width="2" height="2" fill="#000"/>
<rect x="62" y="1008" width="2" height="2" fill="#000"/>
<rect x="52" y="1018" width="2" height="2" fill="#000"/>
<rect x="62" y="1018" width="2" height="2" fill="#000"/>
<rect x="56" y="1010" width="4" height="8" fill="#ff0000"/>
<rect x="54" y="1012" width="8" height="4" fill="#ff0000"/>
</g>
<text x="499.5" y="1254.5" font-size="25" fill="#1c2238" font-weight="bold" text-anchor="start" font-family="'Liberation Sans', sans-serif" textLength="89.5" lengthAdjust="spacingAndGlyphs">2025/11</text>
<text x="1100" y="1254.5" font-size="25" fill="#1c2238" font-weight="bold" text-anchor="start" font-family="'Liberation Sans', sans-serif" textLength="89.5" lengthAdjust="spacingAndGlyphs">2025/12</text>
<rect x="40" y="1228" width="140" height="40" fill="#cdd5dd"/>
<rect x="42" y="1230" width="136" height="36" fill="#fff"/>
<text x="67.5 92" y="1260" font-size="25" font-weight="bold" fill="#ff7a00" font-family="'Liberation Sans', 'Noto Sans CJK SC', sans-serif">日线</text>
<path d="M138 1242 L146.5 1258 L129 1258 Z" fill="#ff7a00"/>
<rect x="40" y="1268" width="1424" height="2" fill="#c8d0da"/>
<rect x="1102" y="1268" width="2" height="32" fill="#c8d0da"/>
<rect x="1104" y="1298" width="360" height="2" fill="#cdd4dc"/>
<rect x="118" y="1270" width="2" height="30" fill="#c8d0da"/>
<rect x="198" y="1270" width="2" height="30" fill="#c8d0da"/>
<rect x="314" y="1270" width="2" height="30" fill="#c8d0da"/>
<rect x="466" y="1270" width="2" height="30" fill="#c8d0da"/>
<rect x="582" y="1270" width="2" height="30" fill="#c8d0da"/>
<rect x="698" y="1270" width="2" height="30" fill="#c8d0da"/>
<rect x="802" y="1270" width="2" height="30" fill="#c8d0da"/>
<rect x="906" y="1270" width="2" height="30" fill="#c8d0da"/>
<rect x="1046" y="1270" width="2" height="30" fill="#c8d0da"/>
<rect x="1102" y="1270" width="2" height="30" fill="#c8d0da"/>
<rect x="520" y="1268" width="228" height="8" fill="#fff"/>
<rect x="524" y="1268" width="220" height="2" fill="#e8ecf0"/>
<rect x="200" y="1268" width="114" height="30" fill="#ff6a00"/>
<text x="55 79" y="1293.88" font-size="26" fill="#263241" font-family="'Liberation Sans', 'Noto Sans CJK SC', sans-serif">指标</text>
<text x="135 159" y="1293.88" font-size="26" fill="#263241" font-family="'Liberation Sans', 'Noto Sans CJK SC', sans-serif">模板</text>
<text x="252 276" y="1293.88" font-size="26" fill="#fff" font-family="'Liberation Sans', 'Noto Sans CJK SC', sans-serif">指标</text>
<text transform="translate(223 1292) scale(0.7 1)" font-size="24" fill="#fff" text-anchor="middle" font-family="'Liberation Serif', serif" stroke="#fff" stroke-width="0.4">V</text>
<text transform="translate(235 1292) scale(0.95 1)" font-size="24" fill="#fff" text-anchor="middle" font-family="'Liberation Serif', serif" stroke="#fff" stroke-width="0.1">I</text>
<text transform="translate(247 1292) scale(0.7 1)" font-size="24" fill="#fff" text-anchor="middle" font-family="'Liberation Serif', serif" stroke="#fff" stroke-width="0.4">P</text>
<text transform="translate(338 1292) scale(0.7 1)" font-size="24" fill="#263241" text-anchor="middle" font-family="'Liberation Serif', serif" stroke="#263241" stroke-width="0.4">B</text>
<text transform="translate(350 1292) scale(0.7 1)" font-size="24" fill="#263241" text-anchor="middle" font-family="'Liberation Serif', serif" stroke="#263241" stroke-width="0.4">A</text>
<text transform="translate(362 1292) scale(0.7 1)" font-size="24" fill="#263241" text-anchor="middle" font-family="'Liberation Serif', serif" stroke="#263241" stroke-width="0.4">R</text>
<text transform="translate(374 1292) scale(0.7 1)" font-size="24" fill="#263241" text-anchor="middle" font-family="'Liberation Serif', serif" stroke="#263241" stroke-width="0.4">U</text>
<text transform="translate(386 1292) scale(0.7 1)" font-size="24" fill="#263241" text-anchor="middle" font-family="'Liberation Serif', serif" stroke="#263241" stroke-width="0.4">P</text>
<text transform="translate(398 1292) scale(0.7 1)" font-size="24" fill="#263241" text-anchor="middle" font-family="'Liberation Serif', serif" stroke="#263241" stroke-width="0.4">D</text>
<text transform="translate(410 1292) scale(0.7 1)" font-size="24" fill="#263241" text-anchor="middle" font-family="'Liberation Serif', serif" stroke="#263241" stroke-width="0.4">N</text>
<rect x="416" y="1294" width="12" height="2" fill="#263241"/>
<text transform="translate(434 1292) scale(0.7 1)" font-size="24" fill="#263241" text-anchor="middle" font-family="'Liberation Serif', serif" stroke="#263241" stroke-width="0.4">U</text>
<text transform="translate(446 1292) scale(0.7 1)" font-size="24" fill="#263241" text-anchor="middle" font-family="'Liberation Serif', serif" stroke="#263241" stroke-width="0.4">D</text>
<text transform="translate(490 1292) scale(0.7 1)" font-size="24" fill="#263241" text-anchor="middle" font-family="'Liberation Serif', serif" stroke="#263241" stroke-width="0.4">B</text>
<text transform="translate(502 1292) scale(0.95 1)" font-size="24" fill="#263241" text-anchor="middle" font-family="'Liberation Serif', serif" stroke="#263241" stroke-width="0.1">I</text>
<text transform="translate(514 1292) scale(0.7 1)" font-size="24" fill="#263241" text-anchor="middle" font-family="'Liberation Serif', serif" stroke="#263241" stroke-width="0.4">A</text>
<text transform="translate(526 1292) scale(0.7 1)" font-size="24" fill="#263241" text-anchor="middle" font-family="'Liberation Serif', serif" stroke="#263241" stroke-width="0.4">S</text>
<rect x="532" y="1294" width="12" height="2" fill="#263241"/>
<text transform="translate(550 1292) scale(0.7 1)" font-size="24" fill="#263241" text-anchor="middle" font-family="'Liberation Serif', serif" stroke="#263241" stroke-width="0.4">U</text>
<text transform="translate(562 1292) scale(0.7 1)" font-size="24" fill="#263241" text-anchor="middle" font-family="'Liberation Serif', serif" stroke="#263241" stroke-width="0.4">D</text>
<text transform="translate(606 1292) scale(0.7 1)" font-size="24" fill="#263241" text-anchor="middle" font-family="'Liberation Serif', serif" stroke="#263241" stroke-width="0.4">B</text>
<text transform="translate(618 1292) scale(0.7 1)" font-size="24" fill="#263241" text-anchor="middle" font-family="'Liberation Serif', serif" stroke="#263241" stroke-width="0.4">O</text>
<text transform="translate(630 1292) scale(0.7 1)" font-size="24" fill="#263241" text-anchor="middle" font-family="'Liberation Serif', serif" stroke="#263241" stroke-width="0.4">L</text>
<text transform="translate(642 1292) scale(0.7 1)" font-size="24" fill="#263241" text-anchor="middle" font-family="'Liberation Serif', serif" stroke="#263241" stroke-width="0.4">L</text>
<rect x="648" y="1294" width="12" height="2" fill="#263241"/>
<text transform="translate(666 1292) scale(0.7 1)" font-size="24" fill="#263241" text-anchor="middle" font-family="'Liberation Serif', serif" stroke="#263241" stroke-width="0.4">U</text>
<text transform="translate(678 1292) scale(0.7 1)" font-size="24" fill="#263241" text-anchor="middle" font-family="'Liberation Serif', serif" stroke="#263241" stroke-width="0.4">D</text>
<text transform="translate(722 1292) scale(0.7 1)" font-size="24" fill="#263241" text-anchor="middle" font-family="'Liberation Serif', serif" stroke="#263241" stroke-width="0.4">C</text>
<text transform="translate(734 1292) scale(0.7 1)" font-size="24" fill="#263241" text-anchor="middle" font-family="'Liberation Serif', serif" stroke="#263241" stroke-width="0.4">C</text>
<text transform="translate(746 1292) scale(0.95 1)" font-size="24" fill="#263241" text-anchor="middle" font-family="'Liberation Serif', serif" stroke="#263241" stroke-width="0.1">I</text>
<rect x="752" y="1294" width="12" height="2" fill="#263241"/>
<text transform="translate(770 1292) scale(0.7 1)" font-size="24" fill="#263241" text-anchor="middle" font-family="'Liberation Serif', serif" stroke="#263241" stroke-width="0.4">U</text>
<text transform="translate(782 1292) scale(0.7 1)" font-size="24" fill="#263241" text-anchor="middle" font-family="'Liberation Serif', serif" stroke="#263241" stroke-width="0.4">D</text>
<text transform="translate(826 1292) scale(0.7 1)" font-size="24" fill="#263241" text-anchor="middle" font-family="'Liberation Serif', serif" stroke="#263241" stroke-width="0.4">D</text>
<text transform="translate(838 1292) scale(0.7 1)" font-size="24" fill="#263241" text-anchor="middle" font-family="'Liberation Serif', serif" stroke="#263241" stroke-width="0.4">M</text>
<text transform="translate(850 1292) scale(0.95 1)" font-size="24" fill="#263241" text-anchor="middle" font-family="'Liberation Serif', serif" stroke="#263241" stroke-width="0.1">I</text>
<rect x="856" y="1294" width="12" height="2" fill="#263241"/>
<text transform="translate(874 1292) scale(0.7 1)" font-size="24" fill="#263241" text-anchor="middle" font-family="'Liberation Serif', serif" stroke="#263241" stroke-width="0.4">U</text>
<text transform="translate(886 1292) scale(0.7 1)" font-size="24" fill="#263241" text-anchor="middle" font-family="'Liberation Serif', serif" stroke="#263241" stroke-width="0.4">D</text>
<text transform="translate(930 1292) scale(0.95 1)" font-size="24" fill="#263241" text-anchor="middle" font-family="'Liberation Serif', serif" stroke="#263241" stroke-width="0.1">I</text>
<text transform="translate(942 1292) scale(0.7 1)" font-size="24" fill="#263241" text-anchor="middle" font-family="'Liberation Serif', serif" stroke="#263241" stroke-width="0.4">N</text>
<text transform="translate(954 1292) scale(0.7 1)" font-size="24" fill="#263241" text-anchor="middle" font-family="'Liberation Serif', serif" stroke="#263241" stroke-width="0.4">S</text>
<text transform="translate(966 1292) scale(0.95 1)" font-size="24" fill="#263241" text-anchor="middle" font-family="'Liberation Serif', serif" stroke="#263241" stroke-width="0.1">I</text>
<text transform="translate(978 1292) scale(0.7 1)" font-size="24" fill="#263241" text-anchor="middle" font-family="'Liberation Serif', serif" stroke="#263241" stroke-width="0.4">D</text>
<text transform="translate(990 1292) scale(0.7 1)" font-size="24" fill="#263241" text-anchor="middle" font-family="'Liberation Serif', serif" stroke="#263241" stroke-width="0.4">E</text>
<rect x="996" y="1294" width="12" height="2" fill="#263241"/>
<text transform="translate(1014 1292) scale(0.7 1)" font-size="24" fill="#263241" text-anchor="middle" font-family="'Liberation Serif', serif" stroke="#263241" stroke-width="0.4">U</text>
<text transform="translate(1026 1292) scale(0.7 1)" font-size="24" fill="#263241" text-anchor="middle" font-family="'Liberation Serif', serif" stroke="#263241" stroke-width="0.4">D</text>
<path d="M1066 1277 L1073 1284 L1066 1291" fill="none" stroke="#263241" stroke-width="2"/>
<path d="M1078 1277 L1085 1284 L1078 1291" fill="none" stroke="#263241" stroke-width="2"/>
<text x="1336" y="1276" font-size="31" fill="#c7b3a6" font-weight="normal" text-anchor="start" font-family="'Liberation Sans', sans-serif" letter-spacing="1.7" opacity="0.9">FX678</text>
<text x="1335" y="1275" font-size="31" fill="#dce8f7" font-weight="normal" text-anchor="start" font-family="'Liberation Sans', sans-serif" letter-spacing="1.7" stroke="#dce8f7" stroke-width="0.3">FX678</text></svg>
</body></html>
